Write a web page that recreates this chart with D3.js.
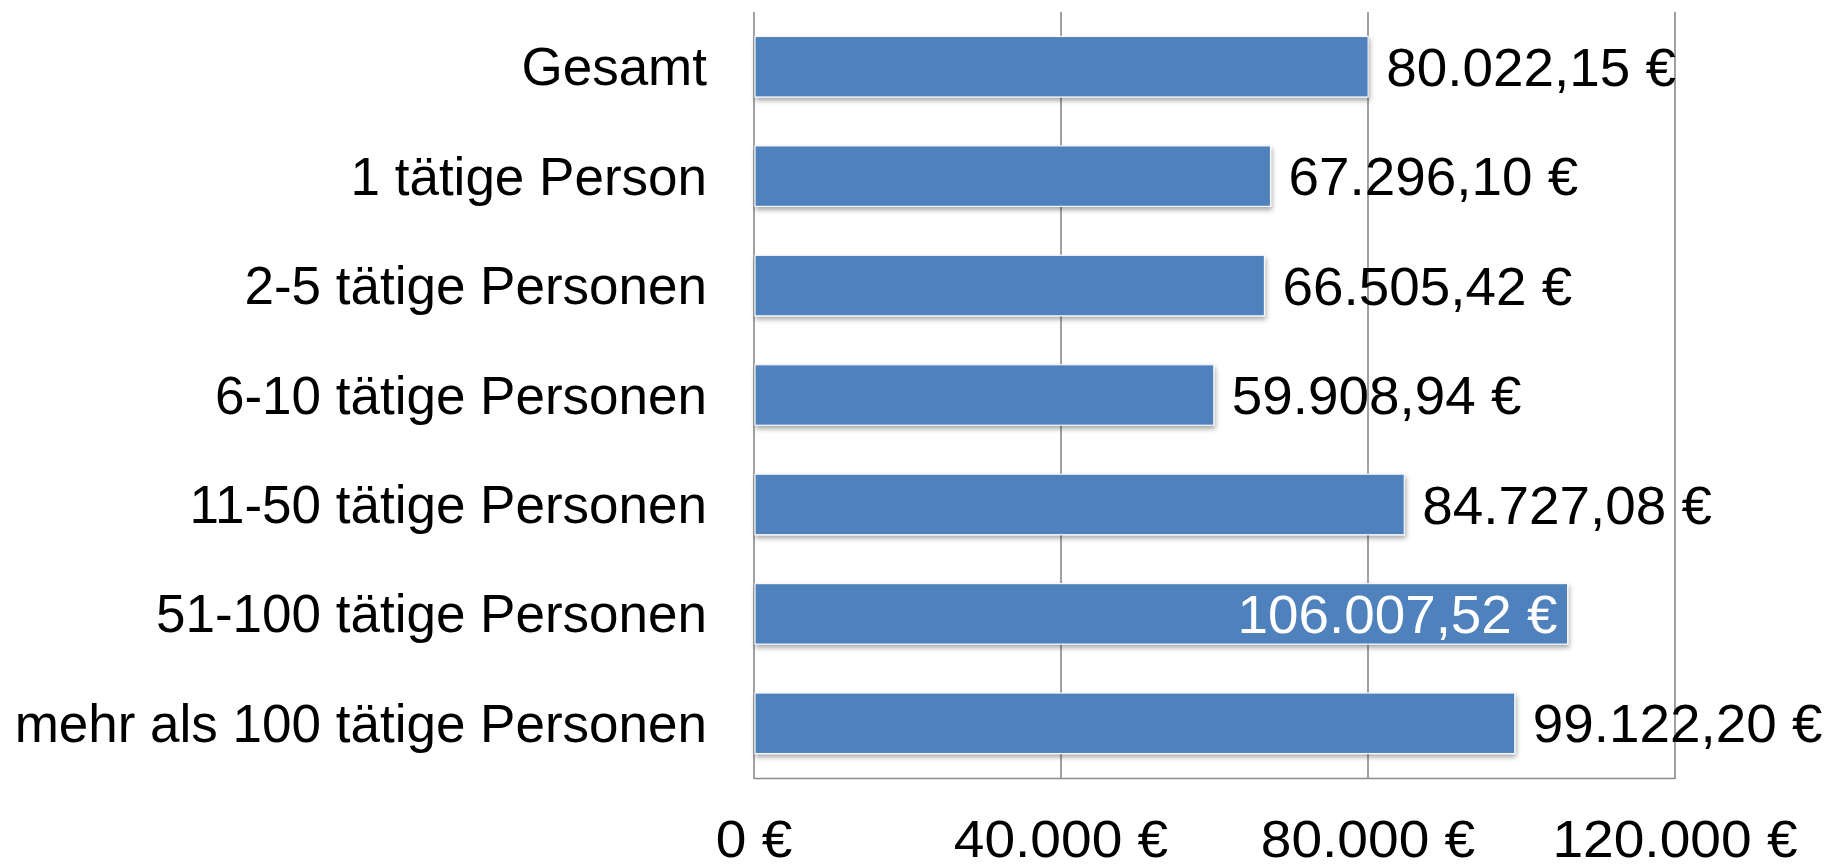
<!DOCTYPE html>
<html>
<head>
<meta charset="utf-8">
<script src="https://cdn.jsdelivr.net/npm/d3@7"></script>
<style>
  html, body { margin: 0; padding: 0; background: #fff; }
  svg { display: block; }
  text { font-family: "Liberation Sans", Arial, sans-serif; }
</style>
</head>
<body>
<script>
const categories = [
  "Gesamt",
  "1 tätige Person",
  "2-5 tätige Personen",
  "6-10 tätige Personen",
  "11-50 tätige Personen",
  "51-100 tätige Personen",
  "mehr als 100 tätige Personen"
];
const values = [80022.15, 67296.10, 66505.42, 59908.94, 84727.08, 106007.52, 99122.20];
const tickValues = [0, 40000, 80000, 120000];

(function () {
const W = 1825, H = 864;
const pLeft = 754, pRight = 1675, pTop = 12, pBottom = 778;
const valSx = 1.035, tickSx = 1.06;

const de = d3.formatLocale({decimal: ",", thousands: ".", grouping: [3], currency: ["", " €"]});
const fmtVal = de.format("$,.2f");
const fmtTick = de.format("$,.0f");

const svg = d3.select("body").append("svg").attr("width", W).attr("height", H);

const defs = svg.append("defs");
const f = defs.append("filter").attr("id", "sh").attr("x", "-5%").attr("y", "-20%").attr("width", "110%").attr("height", "160%");
f.append("feDropShadow").attr("dx", 1).attr("dy", 3).attr("stdDeviation", 2.5)
  .attr("flood-color", "#000").attr("flood-opacity", 0.35);

const x = d3.scaleLinear().domain([0, 120000]).range([pLeft, pRight]);
const y = d3.scaleBand().domain(categories).range([pTop, pBottom]).paddingInner(0.447).paddingOuter(0.2235);

// gridlines
svg.append("g").selectAll("line").data(tickValues).join("line")
  .attr("x1", d => x(d)).attr("x2", d => x(d))
  .attr("y1", pTop).attr("y2", pBottom + 1)
  .attr("stroke", "#8a8a8a").attr("stroke-width", 1.6);

// bottom axis line
svg.append("line").attr("x1", x(0)).attr("x2", x(120000))
  .attr("y1", pBottom + 0.5).attr("y2", pBottom + 0.5)
  .attr("stroke", "#8a8a8a").attr("stroke-width", 1.6);

// bars
const data = categories.map((c, i) => ({c, v: values[i]}));
svg.append("g").selectAll("rect").data(data).join("rect")
  .attr("x", x(0) + 1).attr("y", d => y(d.c))
  .attr("width", d => x(d.v) - x(0) - 1).attr("height", y.bandwidth())
  .attr("fill", "#4f81bd").attr("stroke", "#f4f7fb").attr("stroke-width", 1.2)
  .attr("filter", "url(#sh)");

// category labels
svg.append("g").selectAll("text").data(categories).join("text")
  .attr("x", 707).attr("y", d => y(d) + y.bandwidth() / 2)
  .attr("dy", "0.35em").attr("text-anchor", "end")
  .attr("font-size", 53).attr("fill", "#000").text(d => d);

// value labels
const vl = svg.append("g").selectAll("text").data(data).join("text")
  .attr("dy", "0.36em").attr("font-size", 53)
  .text(d => fmtVal(d.v));
vl.each(function(d) {
  const t = d3.select(this);
  const w = this.getComputedTextLength() * valSx;
  const xe = x(d.v);
  const yc = y(d.c) + y.bandwidth() / 2;
  if (xe + 18 + w > W + 2) {
    t.attr("transform", `translate(${xe - 10},${yc}) scale(${valSx},1)`)
     .attr("text-anchor", "end").attr("fill", "#fff");
  } else {
    t.attr("transform", `translate(${xe + 18},${yc}) scale(${valSx},1)`)
     .attr("text-anchor", "start").attr("fill", "#000");
  }
});

// tick labels
svg.append("g").selectAll("text").data(tickValues).join("text")
  .attr("transform", d => `translate(${x(d)},857) scale(${tickSx},1)`)
  .attr("text-anchor", "middle")
  .attr("font-size", 52).attr("fill", "#000").text(d => fmtTick(d));
})();
</script>
</body>
</html>
